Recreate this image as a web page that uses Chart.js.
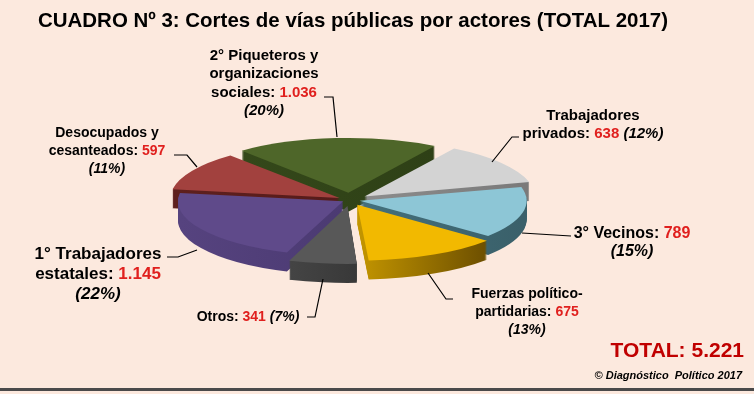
<!DOCTYPE html>
<html>
<head>
<meta charset="utf-8">
<script src="https://cdn.jsdelivr.net/npm/chart.js@4"></script>
<style>
  html, body { margin: 0; padding: 0; background: #FCE9DE; }
  #wrap { position: relative; width: 754px; height: 394px; }
  canvas { display: block; }
</style>
</head>
<body>
<div id="wrap"><canvas id="chart" width="754" height="394"></canvas></div>
<script>
// ============================================
// Data
// ============================================

const categories = [
    '2° Piqueteros y\norganizaciones\nsociales',
    'Trabajadores\nprivados',
    '3° Vecinos',
    'Fuerzas político-\npartidarias',
    'Otros',
    '1° Trabajadores\nestatales',
    'Desocupados y\ncesanteados'
];
const values = [1036, 638, 789, 675, 341, 1145, 597];
const percentages = [20, 12, 15, 13, 7, 22, 11];

const titleText = 'CUADRO Nº 3: Cortes de vías públicas por actores (TOTAL 2017)';
const sourceText = '© Diagnóstico  Político 2017';

// ============================================
// Styles / layout
// ============================================

const topColors  = ['#4E6629', '#D3D3D3', '#8DC6D6', '#F2B900', '#585858', '#5F4A8A', '#A2413E'];
// side colour: [left shade, right shade] for a horizontal gradient
const sideColors = [
    ['#34481A', '#2E4016'],
    ['#8C8C8C', '#7A7A7A'],
    ['#44707C', '#3A606A'],
    ['#C49600', '#6E5000'],
    ['#444444', '#383838'],
    ['#56437F', '#4B3A72'],
    ['#5E201E', '#561B1A']
];
const explode    = [88, 72, 40, 64, 72, 32, 48];   // chart.js arc offset (px * 4)

const TILT = 0.33;     // vertical squash of the pie
const DEPTH = 19;      // thickness in px
const RED = '#E0201E';
const FONT = '"Liberation Sans", Arial, sans-serif';

const labelLayout = [
    { cx: 264, y: 60,  lh: 18.3, size: 15, inline: false, leader: [[324, 97], [333, 97], [337, 137]] },
    { cx: 593, y: 120, lh: 18,   size: 15, inline: true,  leader: [[519, 137], [512, 137], [492, 162]] },
    { cx: 632, y: 238, lh: 17.5, size: 16, inline: false, leader: [[571, 236], [522, 233]] },
    { cx: 527, y: 298, lh: 18,   size: 14, inline: false, leader: [[453, 299], [446, 299], [428, 273]] },
    { cx: 248, y: 321, lh: 18,   size: 14, inline: true,  leader: [[307, 317], [315, 317], [323, 279]] },
    { cx: 98,  y: 259, lh: 20,   size: 17, inline: false, leader: [[167, 257], [178, 257], [197, 250]] },
    { cx: 107, y: 137, lh: 18,   size: 14, inline: false, leader: [[174, 155], [187, 155], [197, 167]] }
];

function fmt(v) {
    return String(v).replace(/\B(?=(\d{3})+(?!\d))/g, '.');
}

// draw a centred line made of coloured / italic pieces
function drawRich(ctx, parts, cx, y, size) {
    let total = 0;
    parts.forEach(p => {
        ctx.font = (p.italic ? 'italic ' : '') + 'bold ' + size + 'px ' + FONT;
        p.w = ctx.measureText(p.text).width;
        total += p.w;
    });
    let x = cx - total / 2;
    ctx.textAlign = 'left';
    ctx.textBaseline = 'alphabetic';
    parts.forEach(p => {
        ctx.font = (p.italic ? 'italic ' : '') + 'bold ' + size + 'px ' + FONT;
        ctx.fillStyle = p.color || '#000';
        ctx.fillText(p.text, x, y);
        x += p.w;
    });
}

// ============================================
// Plugins
// ============================================

// squashes the pie and stacks it to fake the 3D look
const pie3d = {
    id: 'pie3d',
    beforeDatasetsDraw(chart) {
        const ctx = chart.ctx;
        const arcs = chart.getDatasetMeta(0).data;
        const cy = arcs[0].y;

        // horizontal gradients for the side walls, spanning each slice
        const sides = arcs.map((arc, i) => {
            const mid = (arc.startAngle + arc.endAngle) / 2;
            const x0 = arc.x + Math.min(Math.cos(arc.startAngle), Math.cos(arc.endAngle), Math.cos(mid), 0) * arc.outerRadius;
            const x1 = arc.x + Math.max(Math.cos(arc.startAngle), Math.cos(arc.endAngle), Math.cos(mid), 0) * arc.outerRadius;
            const g = ctx.createLinearGradient(x0, 0, x1 + 1, 0);
            g.addColorStop(0, sideColors[i][0]);
            g.addColorStop(1, sideColors[i][1]);
            return g;
        });

        const paint = (dy, colors) => {
            ctx.save();
            ctx.translate(0, cy + dy);
            ctx.scale(1, TILT);
            ctx.translate(0, -cy);
            arcs.forEach((arc, i) => {
                const saved = arc.options;
                arc.options = Object.assign({}, saved, { backgroundColor: colors[i], borderWidth: 0 });
                arc.draw(ctx);
                arc.options = saved;
            });
            ctx.restore();
        };

        for (let d = DEPTH; d >= 1; d--) paint(d, sides);
        paint(0, topColors);
        return false;
    }
};

const decorations = {
    id: 'decorations',
    afterDraw(chart) {
        const ctx = chart.ctx;
        ctx.save();

        // title
        ctx.fillStyle = '#000';
        ctx.textAlign = 'left';
        ctx.font = 'bold 21px ' + FONT;
        ctx.fillText(titleText, 38, 27, 630);

        // slice labels
        categories.forEach((name, i) => {
            const L = labelLayout[i];
            const lines = name.split('\n');
            let y = L.y;
            lines.forEach((ln, k) => {
                const parts = [{ text: ln }];
                if (k === lines.length - 1) {
                    parts.push({ text: ': ' });
                    parts.push({ text: fmt(values[i]), color: RED });
                    if (L.inline) parts.push({ text: ' (' + percentages[i] + '%)', italic: true });
                }
                drawRich(ctx, parts, L.cx, y, L.size);
                y += L.lh;
            });
            if (!L.inline) drawRich(ctx, [{ text: '(' + percentages[i] + '%)', italic: true }], L.cx, y, L.size);

            ctx.strokeStyle = '#000';
            ctx.lineWidth = 1.2;
            ctx.beginPath();
            L.leader.forEach((p, k) => k ? ctx.lineTo(p[0], p[1]) : ctx.moveTo(p[0], p[1]));
            ctx.stroke();
        });

        // total
        const total = values.reduce((a, b) => a + b, 0);
        ctx.textAlign = 'right';
        ctx.fillStyle = '#C00000';
        ctx.font = 'bold 21px ' + FONT;
        ctx.fillText('TOTAL: ' + fmt(total), 744, 357);

        // source
        ctx.fillStyle = '#000';
        ctx.font = 'italic bold 11px ' + FONT;
        ctx.fillText(sourceText, 742, 379, 148);

        // bottom rule
        ctx.fillStyle = '#4A4A4A';
        ctx.fillRect(0, 388, 754, 3);

        ctx.restore();
    }
};

// ============================================
// Chart
// ============================================

new Chart(document.getElementById('chart'), {
    type: 'pie',
    data: {
        labels: categories,
        datasets: [{
            data: values,
            backgroundColor: topColors,
            borderWidth: 0,
            offset: explode
        }]
    },
    options: {
        responsive: false,
        animation: false,
        events: [],
        radius: 165,
        rotation: -40,
        layout: { padding: { left: 0, right: 54, top: 6, bottom: 0 } },
        plugins: {
            legend: { display: false },
            tooltip: { enabled: false }
        }
    },
    plugins: [pie3d, decorations]
});
</script>
</body>
</html>
